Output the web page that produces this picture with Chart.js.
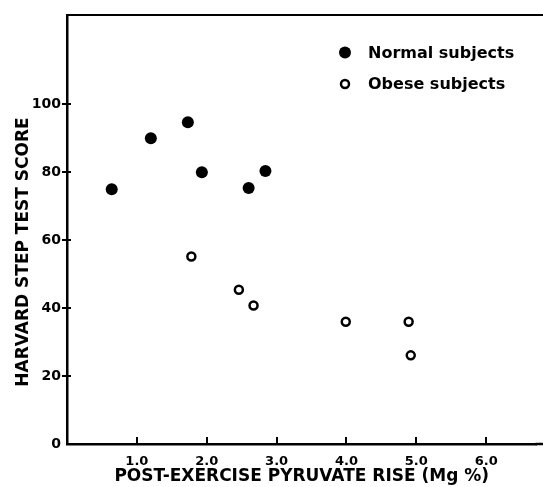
<!DOCTYPE html>
<html>
<head>
<meta charset="utf-8">
<script src="https://cdn.jsdelivr.net/npm/chart.js@4/dist/chart.umd.min.js"></script>
<style>
html,body{margin:0;padding:0;background:#fff;}
#wrap{width:543px;height:487px;position:relative;}
</style>
</head>
<body>
<div id="wrap"><canvas id="c" width="543" height="487"></canvas></div>
<script>
// ---- data ----
const normalX = [0.64, 1.20, 1.73, 1.93, 2.60, 2.84];
const normalY = [75.0, 90.0, 94.7, 80.0, 75.4, 80.4];
const obeseX  = [1.78, 2.46, 2.67, 3.99, 4.89, 4.92];
const obeseY  = [55.2, 45.4, 40.8, 36.0, 36.0, 26.1];
const xTickValues = [1, 2, 3, 4, 5, 6];
const yTickValues = [0, 20, 40, 60, 80, 100];
const seriesLabels = ['Normal subjects', 'Obese subjects'];
const xTitle = 'POST-EXERCISE PYRUVATE RISE (Mg %)';
const yTitle = 'HARVARD STEP TEST SCORE';

const FONT = '"DejaVu Sans", sans-serif';

const framePlugin = {
  id: 'frame',
  afterDraw(chart) {
    const {ctx, chartArea: a, scales} = chart;
    ctx.save();
    ctx.strokeStyle = '#000';
    ctx.lineWidth = 2;
    // top border
    ctx.beginPath();
    ctx.moveTo(a.left - 1, a.top);
    ctx.lineTo(chart.width, a.top);
    ctx.stroke();
    // bottom axis continues to the edge of the picture
    ctx.lineWidth = 2.5;
    ctx.beginPath();
    ctx.moveTo(a.right - 1, a.bottom);
    ctx.lineTo(chart.width, a.bottom);
    ctx.stroke();
    ctx.lineWidth = 2;
    // x tick marks pointing inward
    scales.x.ticks.forEach(t => {
      const px = Math.round(scales.x.getPixelForValue(t.value));
      ctx.beginPath();
      ctx.moveTo(px, a.bottom);
      ctx.lineTo(px, a.bottom - 7);
      ctx.stroke();
    });
    // y tick marks crossing axis
    scales.y.ticks.forEach(t => {
      if (t.value === 0) return;
      const py = Math.round(scales.y.getPixelForValue(t.value));
      ctx.beginPath();
      ctx.moveTo(a.left - 5, py);
      ctx.lineTo(a.left + 4, py);
      ctx.stroke();
    });
    // y axis title
    ctx.fillStyle = '#000';
    ctx.save();
    ctx.translate(24, a.top + 237);
    ctx.rotate(-Math.PI / 2);
    ctx.font = 'bold 17px ' + FONT;
    ctx.textAlign = 'center';
    ctx.textBaseline = 'middle';
    ctx.fillText(yTitle, 0, 0);
    ctx.restore();
    // legend
    const lx = a.left + 278, ly1 = a.top + 37.5, ly2 = a.top + 69;
    ctx.beginPath();
    ctx.arc(lx, ly1, 6, 0, Math.PI * 2);
    ctx.fill();
    ctx.lineWidth = 2.5;
    ctx.beginPath();
    ctx.arc(lx, ly2, 4, 0, Math.PI * 2);
    ctx.stroke();
    ctx.font = 'bold 16px ' + FONT;
    ctx.textBaseline = 'middle';
    ctx.textAlign = 'left';
    ctx.fillText(chart.data.datasets[0].label, lx + 23, ly1 + 1);
    ctx.fillText(chart.data.datasets[1].label, lx + 23, ly2 + 1);
    ctx.restore();
  }
};

new Chart(document.getElementById('c'), {
  type: 'scatter',
  data: {
    datasets: [
      {
        label: seriesLabels[0],
        data: normalX.map((x, i) => ({x, y: normalY[i]})),
        pointStyle: 'circle',
        pointRadius: 6,
        pointHoverRadius: 6,
        backgroundColor: '#000',
        borderColor: '#000',
        borderWidth: 0
      },
      {
        label: seriesLabels[1],
        data: obeseX.map((x, i) => ({x, y: obeseY[i]})),
        pointStyle: 'circle',
        pointRadius: 4,
        pointHoverRadius: 4,
        backgroundColor: '#fff',
        borderColor: '#000',
        borderWidth: 2.5
      }
    ]
  },
  options: {
    responsive: false,
    animation: false,
    layout: {padding: {left: 15, top: 15, right: 0, bottom: 0}},
    plugins: {legend: {display: false}, tooltip: {enabled: false}},
    scales: {
      x: {
        type: 'linear',
        min: 0,
        max: 6.72,
        afterBuildTicks: s => { s.ticks = xTickValues.map(v => ({value: v})); },
        afterFit: s => { s.height = 43; s.paddingLeft = 0; s.paddingRight = 0; },
        grid: {display: false, drawTicks: false},
        border: {display: true, color: '#000', width: 2.5},
        ticks: {
          color: '#000',
          padding: 10,
          maxRotation: 0,
          font: {family: FONT, size: 13, weight: 'bold'},
          callback: v => v.toFixed(1)
        },
        title: {
          display: true,
          text: xTitle,
          color: '#000',
          font: {family: FONT, size: 17, weight: 'bold'},
          padding: 0
        }
      },
      y: {
        type: 'linear',
        min: 0,
        max: 126.3,
        afterBuildTicks: s => { s.ticks = yTickValues.map(v => ({value: v})); },
        afterFit: s => { s.width = 52; s.paddingTop = 0; s.paddingBottom = 0; },
        grid: {display: false, drawTicks: false},
        border: {display: true, color: '#000', width: 2.5},
        ticks: {
          color: '#000',
          padding: 6,
          font: {family: FONT, size: 14, weight: 'bold'},
          callback: v => String(v)
        },
        title: {display: false}
      }
    }
  },
  plugins: [framePlugin]
});
</script>
</body>
</html>
